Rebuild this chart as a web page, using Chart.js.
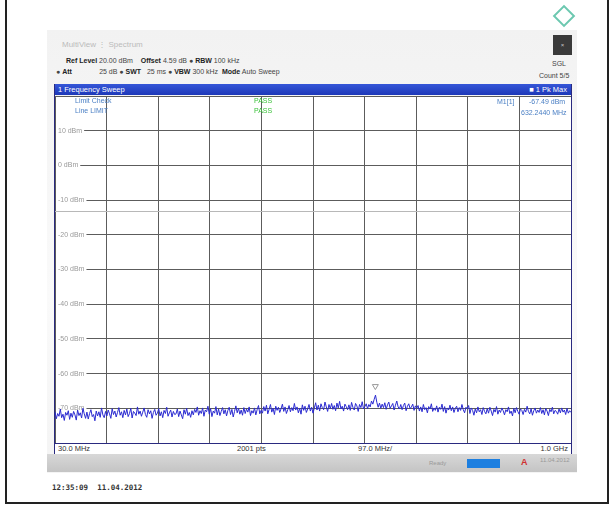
<!DOCTYPE html>
<html>
<head>
<meta charset="utf-8">
<script src="https://cdn.jsdelivr.net/npm/chart.js@4.4.1/dist/chart.umd.min.js"></script>
<style>
  body { margin: 0; width: 616px; height: 508px; background: #fff; position: relative; overflow: hidden;
         font-family: "Liberation Sans", Arial, sans-serif; }
  .abs { position: absolute; white-space: nowrap; }
  #frame { left: 5px; top: -3px; width: 604px; height: 507px; border: 2px solid #222; box-sizing: border-box; }
  #screen { left: 47px; top: 30px; width: 530px; height: 443px; background: linear-gradient(#f2f2f2, #fafafa 60%, #f4f4f4); }
  #plotWrap { left: 55px; top: 96px; width: 516px; height: 347px; background: #fff; }
  #plotBox { left: 54px; top: 84px; width: 518px; height: 370px; border: 1px solid #2a2a80; box-sizing: border-box; }
  #blueBar { left: 55px; top: 84px; width: 516px; height: 11px;
             background: linear-gradient(#3556d8, #1d38b8); color: #fff; font-size: 7.5px; line-height: 11px; }
  #xRow { left: 55px; top: 443px; width: 516px; height: 10px; background: #fff; border-top: 1px solid #2a2a80;
          font-size: 7.5px; line-height: 10px; color: #333; }
  #status { left: 47px; top: 454px; width: 530px; height: 18px; background: linear-gradient(#d8d8d8, #c4c4c4); }
  .hdr { font-size: 7px; color: #444; }
  .b { font-weight: bold; color: #222; }
  .info { font-size: 7px; color: #4a7fc4; }
  .pass { font-size: 7px; color: #3ac23a; }
</style>
</head>
<body>
<div id="screen" class="abs"></div>
<div class="abs" style="left:62px;top:40px;font-size:8px;color:#bbb;">MultiView &#8942; Spectrum</div>
<div class="abs" style="left:556px;top:8px;width:12px;height:12px;border:2px solid #6cc8b0;transform:rotate(45deg);"></div>
<div class="abs" style="left:553px;top:35px;width:19px;height:20px;background:#3a3a3a;color:#ccc;font-size:6px;text-align:center;line-height:20px;">&#215;</div>

<div class="abs hdr" style="left:66px;top:57px;"><span class="b">Ref Level</span> 20.00 dBm &nbsp;&nbsp; <span class="b">Offset</span> 4.59 dB &#9679; <span class="b">RBW</span> 100 kHz</div>
<div class="abs hdr" style="left:56px;top:68px;">&#9679; <span class="b">Att</span> &nbsp;&nbsp;&nbsp;&nbsp;&nbsp;&nbsp;&nbsp;&nbsp;&nbsp;&nbsp;&nbsp;&nbsp;&nbsp;25 dB &#9679; <span class="b">SWT</span> &nbsp; 25 ms &#9679; <span class="b">VBW</span> 300 kHz &nbsp;<span class="b">Mode</span> Auto Sweep</div>
<div class="abs hdr" style="left:552px;top:60px;">SGL</div>
<div class="abs hdr" style="left:539px;top:72px;">Count 5/5</div>

<div id="plotBox" class="abs"></div>
<div id="blueBar" class="abs"><span style="padding-left:3px;">1 Frequency Sweep</span><span style="position:absolute;right:4px;">&#9632; 1 Pk Max</span></div>
<div id="plotWrap" class="abs"><canvas id="spec"></canvas></div>

<div class="abs info" style="left:75px;top:97px;">Limit Check</div>
<div class="abs info" style="left:75px;top:107px;">Line LIMIT</div>
<div class="abs pass" style="left:254px;top:97px;">PASS</div>
<div class="abs pass" style="left:254px;top:107px;">PASS</div>
<div class="abs info" style="left:497px;top:98px;">M1[1]</div>
<div class="abs info" style="left:529px;top:98px;">-67.49 dBm</div>
<div class="abs info" style="left:521px;top:109px;">632.2440 MHz</div>

<div id="xRow" class="abs">
  <span style="position:absolute;left:3px;">30.0 MHz</span>
  <span style="position:absolute;left:182px;">2001 pts</span>
  <span style="position:absolute;left:303px;">97.0 MHz/</span>
  <span style="position:absolute;right:3px;">1.0 GHz</span>
</div>
<div id="status" class="abs">
  <div class="abs" style="left:382px;top:6px;font-size:6px;color:#999;">Ready</div>
  <div class="abs" style="left:420px;top:5px;width:33px;height:9px;background:#1d7fe0;"></div>
  <div class="abs" style="left:474px;top:3px;font-size:9px;color:#d03030;font-weight:bold;">A</div>
  <div class="abs" style="left:493px;top:3px;font-size:6px;color:#999;">11.04.2012</div>
</div>
<div class="abs" style="left:52px;top:483px;font-family:'DejaVu Sans Mono',monospace;font-size:7.5px;font-weight:bold;color:#333;">12:35:09 &nbsp;11.04.2012</div>
<div id="frame" class="abs"></div>

<script>
// sweep: 30 MHz .. 1 GHz, trace read every 2.5 MHz
const startMHz = 30;
const stepMHz = 2.5;
const yTicks = [20, 10, 0, -10, -20, -30, -40, -50, -60, -70, -80];
const thresholdDbm = -13;
const marker = { freq: 632.2, level: -67.49, label: 'M1' };

const trace = [
  -71.0, -73.0, -71.5, -72.3, -70.2, -72.7, -71.7, -73.5, -71.2, -72.0, -70.7, -73.2, -71.4,
  -72.6, -70.9, -71.9, -73.4, -70.5, -72.1, -71.3, -72.8, -70.0, -71.6, -72.9, -71.1, -73.1,
  -71.5, -70.4, -72.4, -71.8, -73.6, -70.8, -72.2, -71.0, -72.6, -69.9, -71.9, -72.7, -70.9,
  -72.2, -70.5, -71.6, -72.9, -70.1, -71.8, -70.8, -72.5, -71.2, -69.8, -72.0, -71.0, -72.7,
  -70.6, -71.9, -70.2, -72.4, -71.5, -70.0, -72.8, -70.9, -71.4, -72.1, -69.6, -71.7, -70.8,
  -72.3, -71.1, -69.9, -71.8, -72.6, -70.4, -71.6, -70.7, -72.9, -71.2, -70.3, -72.0, -71.4,
  -70.1, -72.2, -71.0, -72.7, -70.6, -71.5, -69.7, -72.3, -71.3, -70.5, -72.5, -70.9, -71.8,
  -71.6, -70.2, -72.4, -70.8, -71.9, -73.0, -70.4, -71.7, -70.0, -72.1, -71.2, -72.6, -70.7,
  -71.9, -70.3, -71.2, -69.6, -72.0, -70.7, -71.5, -69.9, -72.3, -70.5, -71.0, -69.4, -71.7,
  -70.1, -72.4, -70.8, -71.4, -69.5, -71.9, -70.2, -72.1, -70.9, -69.8, -71.6, -70.4, -72.2,
  -70.6, -69.7, -71.8, -70.3, -72.5, -70.9, -69.3, -71.3, -70.0, -71.7, -70.5, -72.0, -69.8,
  -71.5, -70.2, -71.1, -69.6, -72.1, -70.7, -71.4, -69.9, -71.9, -70.4, -69.2, -71.6, -70.6,
  -71.4, -69.5, -70.8, -69.1, -71.6, -70.3, -68.9, -71.1, -70.0, -71.8, -69.4, -70.6, -69.7,
  -71.2, -70.1, -68.8, -70.9, -69.6, -71.5, -70.4, -69.2, -71.0, -69.8, -70.7, -68.6, -70.5,
  -69.6, -71.3, -70.0, -71.7, -69.0, -70.6, -69.4, -71.2, -70.2, -68.9, -70.8, -69.7, -71.4,
  -69.9, -68.4, -70.5, -69.1, -70.8, -68.7, -69.8, -70.4, -68.2, -69.6, -70.9, -68.9, -70.1,
  -68.6, -70.3, -69.2, -70.7, -68.5, -69.9, -68.0, -70.2, -69.4, -70.8, -68.8, -69.5, -70.4,
  -69.0, -70.6, -68.3, -69.7, -70.5, -68.6, -69.3, -70.9, -68.9, -69.8, -68.1, -70.2, -69.5,
  -68.7, -70.1, -68.9, -69.6, -67.9, -68.8, -67.4, -66.2, -68.3, -69.7, -68.5, -70.0, -68.8,
  -69.8, -68.4, -70.3, -69.0, -68.2, -70.0, -69.3, -68.6, -70.5, -69.1, -67.9, -69.6, -70.2,
  -68.9, -70.4, -69.2, -68.5, -70.7, -69.4, -68.7, -70.1, -69.6, -68.8, -70.6, -69.3, -70.0,
  -69.2, -70.8, -69.6, -71.0, -68.9, -70.4, -69.8, -71.3, -69.5, -70.2, -68.7, -70.9, -69.9,
  -70.6, -69.3, -71.1, -69.7, -70.3, -68.8, -70.9, -69.5, -71.4, -69.9, -70.5, -69.1, -70.7,
  -69.6, -71.2, -70.0, -69.4, -71.0, -69.8, -70.6, -68.9, -70.4, -71.3, -69.7, -70.1, -69.2,
  -71.5, -69.9, -70.6, -72.0, -70.2, -71.3, -69.6, -71.0, -70.4, -71.8, -69.8, -70.9, -71.6,
  -70.1, -71.4, -69.7, -70.8, -72.1, -70.3, -71.1, -69.5, -71.7, -70.5, -71.2, -69.9, -70.7,
  -71.9, -70.4, -71.0, -69.6, -71.5, -70.8, -72.2, -70.0, -71.3, -69.8, -70.9, -71.7, -70.2,
  -70.6, -71.8, -70.3, -71.1, -69.4, -70.9, -71.6, -70.1, -72.0, -70.7, -69.9, -71.4, -70.5,
  -71.2, -69.8, -71.5, -70.4, -71.9, -70.0, -70.8, -72.1, -70.3, -71.0, -69.7, -71.6, -70.6,
  -70.9, -71.7, -70.2, -71.3, -69.9, -71.1, -70.5, -71.8, -70.0, -71.4, -70.7, -71.2, -70.8
];

const points = trace.map((v, i) => ({ x: startMHz + i * stepMHz, y: v }));

// level labels, threshold line and marker symbol
const overlay = {
  id: 'overlay',
  beforeDatasetsDraw(chart) {
    const { ctx, chartArea, scales } = chart;
    ctx.save();
    const yT = Math.round(scales.y.getPixelForValue(thresholdDbm)) + 0.5;
    ctx.strokeStyle = '#b8b8b8';
    ctx.lineWidth = 1;
    ctx.beginPath();
    ctx.moveTo(chartArea.left, yT);
    ctx.lineTo(chartArea.right, yT);
    ctx.stroke();

    ctx.font = '7px "Liberation Sans", Arial, sans-serif';
    ctx.textBaseline = 'middle';
    yTicks.slice(1, -1).forEach(v => {
      const y = scales.y.getPixelForValue(v);
      const txt = v + ' dBm';
      const w = ctx.measureText(txt).width;
      ctx.fillStyle = '#fff';
      ctx.fillRect(chartArea.left + 1, y - 4, w + 4, 8);
      ctx.fillStyle = '#999';
      ctx.fillText(txt, chartArea.left + 3, y);
    });
    ctx.restore();
  },
  afterDatasetsDraw(chart) {
    const { ctx, scales } = chart;
    const mx = scales.x.getPixelForValue(marker.freq);
    const my = scales.y.getPixelForValue(marker.level) - 10;
    ctx.save();
    ctx.strokeStyle = '#999';
    ctx.lineWidth = 1;
    ctx.beginPath();
    ctx.moveTo(mx - 3, my - 5);
    ctx.lineTo(mx + 3, my - 5);
    ctx.lineTo(mx, my);
    ctx.closePath();
    ctx.stroke();
    ctx.restore();
  }
};

new Chart(document.getElementById('spec'), {
  type: 'line',
  data: {
    datasets: [{
      data: points,
      borderColor: '#2a2ad0',
      borderWidth: 1,
      pointRadius: 0,
      tension: 0
    }]
  },
  options: {
    responsive: true,
    maintainAspectRatio: false,
    animation: false,
    layout: { padding: 0 },
    plugins: { legend: { display: false }, tooltip: { enabled: false } },
    scales: {
      x: {
        type: 'linear',
        min: 30,
        max: 1000,
        afterBuildTicks: s => { s.ticks = Array.from({ length: 11 }, (_, i) => ({ value: 30 + i * 97 })); },
        ticks: { display: false },
        grid: { color: '#5c5c5c', drawTicks: false },
        border: { display: false }
      },
      y: {
        min: -80,
        max: 20,
        afterBuildTicks: s => { s.ticks = yTicks.map(v => ({ value: v })); },
        ticks: { display: false },
        grid: { color: '#5c5c5c', drawTicks: false },
        border: { display: false }
      }
    }
  },
  plugins: [overlay]
});
</script>
</body>
</html>
